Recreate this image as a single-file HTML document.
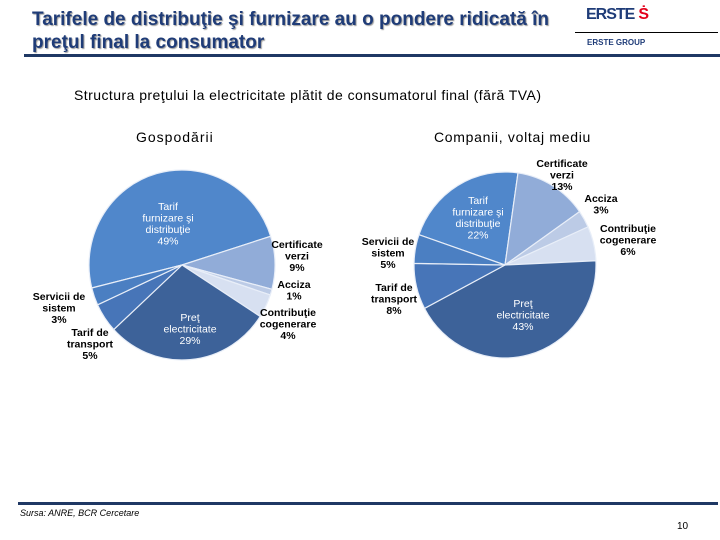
<!DOCTYPE html>
<html><head><meta charset="utf-8"><style>
body{margin:0;width:720px;height:540px;background:#fff;position:relative;overflow:hidden;font-family:"Liberation Sans",sans-serif}
.t{position:absolute;white-space:nowrap}
</style></head><body>
<div class="t" style="left:32px;top:8px;font-size:19px;font-weight:bold;color:#1f3c78;line-height:23px;text-shadow:1px 1px 1px #999">Tarifele de distribuţie şi furnizare au o pondere ridicată în<br>preţul final la consumator</div>
<div style="position:absolute;left:24px;top:54px;width:696px;height:3px;background:#1f3864"></div>
<div class="t" style="left:586px;top:6px;font-size:16px;font-weight:bold;color:#1f3c78;letter-spacing:-1px">ERSTE<span style="color:#e3001b;margin-left:4px">Ṡ</span></div>
<div style="position:absolute;left:575px;top:32px;width:143px;height:1px;background:#000"></div>
<div class="t" style="left:587px;top:38px;font-size:8px;font-weight:bold;color:#1f3c78">ERSTE GROUP</div>
<div class="t" style="left:74px;top:87px;font-size:14px;letter-spacing:0.45px;color:#000">Structura preţului la electricitate plătit de consumatorul final (fără TVA)</div>
<div class="t" style="left:136px;top:129px;font-size:14px;letter-spacing:1px">Gospodării</div>
<div class="t" style="left:434px;top:129px;font-size:14px;letter-spacing:0.7px">Companii, voltaj mediu</div>
<svg id="svg" width="720" height="540" style="position:absolute;left:0;top:0"></svg>
<div style="position:absolute;left:18px;top:502px;width:700px;height:3px;background:#1f3864"></div>
<div class="t" style="left:20px;top:508px;font-size:9px;font-style:italic">Sursa: ANRE, BCR Cercetare</div>
<div class="t" style="left:677px;top:521px;font-size:10px">10</div>
<script>
const leftCats=["Tarif furnizare şi distribuţie","Certificate verzi","Acciza","Contribuţie cogenerare","Preţ electricitate","Tarif de transport","Servicii de sistem"];
const leftVals=[49,9,1,4,29,5,3];
const rightCats=["Tarif furnizare şi distribuţie","Certificate verzi","Acciza","Contribuţie cogenerare","Preţ electricitate","Tarif de transport","Servicii de sistem"];
const rightVals=[22,13,3,6,43,8,5];
const colors=["#5087cb","#91acd8","#bccbe6","#d7e0f1","#3d6299","#4775b8","#4b7fc2"];
const svg=document.getElementById('svg');
const NS="http://www.w3.org/2000/svg";
function pie(vals,cx,cy,rx,ry,start,name){
  const tot=vals.reduce((a,b)=>a+b,0);let a=start;
  vals.forEach((v,i)=>{
    const a2=a+v/tot*360;
    const p=(d)=>{const r=d*Math.PI/180;return [cx+rx*Math.sin(r),cy-ry*Math.cos(r)];};
    const [x1,y1]=p(a),[x2,y2]=p(a2);
    const path=document.createElementNS(NS,'path');
    path.setAttribute('d',`M${cx},${cy}L${x1},${y1}A${rx},${ry} 0 ${a2-a>180?1:0} 1 ${x2},${y2}Z`);
    path.setAttribute('fill',colors[i]);path.setAttribute('stroke','#e8eef8');path.setAttribute('stroke-width','1.2');
    
    
    svg.appendChild(path);a=a2;
  });
}
pie(leftVals,182,265,93,95,256,'left');
pie(rightVals,505,265,91,93,289,'right');
function lab(x,y,lines,col,bold,name){
  const t=document.createElementNS(NS,'text');
  t.setAttribute('x',x);t.setAttribute('y',y);t.setAttribute('text-anchor','middle');
  t.setAttribute('font-size','10.5');t.setAttribute('font-family','Liberation Sans, sans-serif');
  t.setAttribute('fill',col);if(bold)t.setAttribute('font-weight','bold');
  
  
  lines.forEach((l,i)=>{const s=document.createElementNS(NS,'tspan');s.setAttribute('x',x);s.setAttribute('dy',i?11.5:0);s.textContent=l;t.appendChild(s);});
  svg.appendChild(t);
}
lab(168,210,["Tarif","furnizare şi","distribuţie",leftVals[0]+"%"],"#fff",false,"left-label-tarif");
lab(297,248,["Certificate","verzi",leftVals[1]+"%"],"#000",true,"left-label-certificate");
lab(294,288,["Acciza",leftVals[2]+"%"],"#000",true,"left-label-acciza");
lab(288,316,["Contribuţie","cogenerare",leftVals[3]+"%"],"#000",true,"left-label-contributie");
lab(190,321,["Preţ","electricitate",leftVals[4]+"%"],"#fff",false,"left-label-pret");
lab(90,336,["Tarif de","transport",leftVals[5]+"%"],"#000",true,"left-label-transport");
lab(59,300,["Servicii de","sistem",leftVals[6]+"%"],"#000",true,"left-label-servicii");
lab(478,204,["Tarif","furnizare şi","distribuţie",rightVals[0]+"%"],"#fff",false,"right-label-tarif");
lab(562,167,["Certificate","verzi",rightVals[1]+"%"],"#000",true,"right-label-certificate");
lab(601,202,["Acciza",rightVals[2]+"%"],"#000",true,"right-label-acciza");
lab(628,232,["Contribuţie","cogenerare",rightVals[3]+"%"],"#000",true,"right-label-contributie");
lab(523,307,["Preţ","electricitate",rightVals[4]+"%"],"#fff",false,"right-label-pret");
lab(394,291,["Tarif de","transport",rightVals[5]+"%"],"#000",true,"right-label-transport");
lab(388,245,["Servicii de","sistem",rightVals[6]+"%"],"#000",true,"right-label-servicii");
</script>
</body></html>
